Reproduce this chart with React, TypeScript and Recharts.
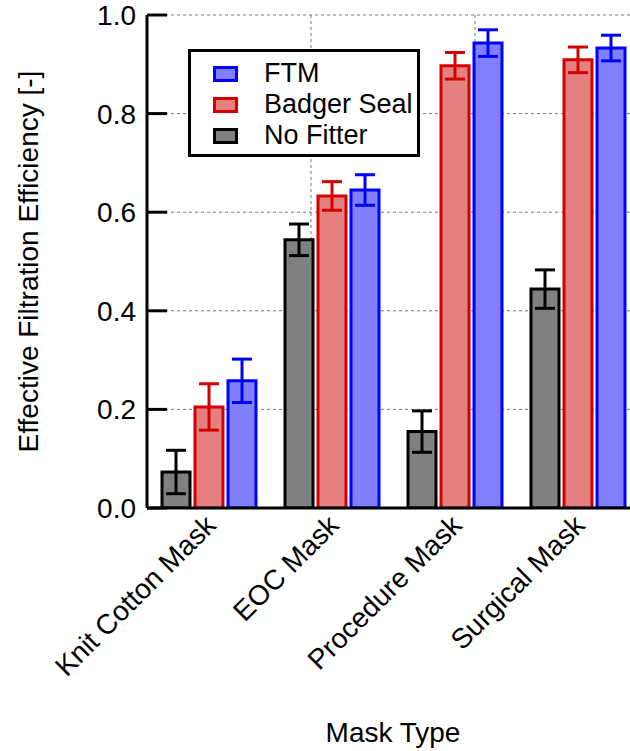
import React from 'react';
import { Bar, BarChart, CartesianGrid, ErrorBar, Label, Legend, XAxis, YAxis } from 'recharts';

const categories = ['Knit Cotton Mask', 'EOC Mask', 'Procedure Mask', 'Surgical Mask'];
const noFitter = [0.073, 0.544, 0.155, 0.444];
const noFitterErr = [0.044, 0.032, 0.042, 0.039];
const badgerSeal = [0.205, 0.633, 0.897, 0.909];
const badgerSealErr = [0.047, 0.029, 0.027, 0.026];
const ftm = [0.258, 0.645, 0.943, 0.933];
const ftmErr = [0.044, 0.031, 0.027, 0.026];
const yTicks = [0, 0.2, 0.4, 0.6, 0.8, 1.0];
const separators = [1, 2, 3];

const FONT = '"Liberation Sans", Arial, Helvetica, sans-serif';
const AXIS_LINE = { stroke: '#000', strokeWidth: 3 };

const SERIES = [
  { key: 'ftm', label: 'FTM', fill: '#8080ff', stroke: '#0000ff' },
  { key: 'badgerSeal', label: 'Badger Seal', fill: '#e58080', stroke: '#d40000' },
  { key: 'noFitter', label: 'No Fitter', fill: '#808080', stroke: '#000000' },
];

const data = categories.map((name, i) => ({
  name,
  noFitter: noFitter[i],
  noFitterErr: noFitterErr[i],
  badgerSeal: badgerSeal[i],
  badgerSealErr: badgerSealErr[i],
  ftm: ftm[i],
  ftmErr: ftmErr[i],
}));

function LeftTick({ x, y, payload }: any) {
  return (
    <g>
      <line x1={x} x2={x + 20} y1={y} y2={y} stroke="#000" strokeWidth={3} />
      <text x={x - 11} y={y} dy="0.36em" textAnchor="end" fontSize={28} fontFamily={FONT} fill="#000">
        {Number(payload.value).toFixed(1)}
      </text>
    </g>
  );
}

function RightTick({ x, y }: any) {
  return <line x1={x - 12} x2={x} y1={y} y2={y} stroke="#000" strokeWidth={3} />;
}

function TopSepTick({ x, y }: any) {
  return <line x1={x} x2={x} y1={y} y2={y + 18} stroke="#000" strokeWidth={3} />;
}

function BottomSepTick({ x, y }: any) {
  return <line x1={x} x2={x} y1={y} y2={y - 20} stroke="#000" strokeWidth={3} />;
}

function CategoryTick({ x, y, payload }: any) {
  const tx = x + 9;
  const ty = y + 19;
  return (
    <text
      x={tx}
      y={ty}
      textAnchor="end"
      transform={`rotate(-45 ${tx} ${ty})`}
      fontSize={28}
      fontFamily={FONT}
      fill="#000"
    >
      {payload.value}
    </text>
  );
}

function YTitle({ viewBox }: any) {
  const vb = viewBox || { x: 0, y: 15, width: 147, height: 493 };
  const cx = vb.x + 28;
  const cy = vb.y + vb.height / 2;
  return (
    <text
      x={cx}
      y={cy}
      dy="0.36em"
      textAnchor="middle"
      transform={`rotate(-90 ${cx} ${cy})`}
      fontSize={28}
      fontFamily={FONT}
      fill="#000"
    >
      Effective Filtration Efficiency [-]
    </text>
  );
}

function XTitle({ viewBox }: any) {
  const vb = viewBox || { x: 147, y: 508, width: 492, height: 243 };
  return (
    <text x={vb.x + vb.width / 2} y={vb.y + 234} textAnchor="middle" fontSize={28} fontFamily={FONT} fill="#000">
      Mask Type
    </text>
  );
}

function LegendBox() {
  return (
    <div
      style={{
        boxSizing: 'border-box',
        width: 232,
        height: 108,
        border: '3px solid #000',
        background: '#fff',
        padding: '6px 0 0 22px',
        fontFamily: FONT,
        fontSize: 27,
        color: '#000',
      }}
    >
      {SERIES.map((s) => (
        <div key={s.key} style={{ display: 'flex', alignItems: 'center', height: 31 }}>
          <span
            style={{
              boxSizing: 'border-box',
              display: 'inline-block',
              width: 25,
              height: 16,
              background: s.fill,
              border: `3px solid ${s.stroke}`,
              marginRight: 26,
            }}
          />
          <span style={{ lineHeight: '31px', whiteSpace: 'nowrap' }}>{s.label}</span>
        </div>
      ))}
    </div>
  );
}

export default function App() {
  const barOrder = [...SERIES].reverse();
  return (
    <div style={{ position: 'absolute', left: 0, top: 0, width: 630, height: 751, overflow: 'hidden', background: '#fff' }}>
      <BarChart
        width={660}
        height={751}
        data={data}
        margin={{ top: 15, right: 21, left: 0, bottom: 0 }}
        barGap={5}
      >
        <CartesianGrid xAxisId="sepTop" yAxisId="left" stroke="#777" strokeDasharray="3 3" strokeWidth={1} />
        <XAxis
          xAxisId="sepTop"
          orientation="top"
          type="number"
          domain={[0, 4]}
          ticks={separators}
          height={0}
          tickSize={0}
          tick={<TopSepTick />}
          axisLine={AXIS_LINE}
          allowDataOverflow
        />
        <XAxis
          xAxisId="sepBot"
          orientation="bottom"
          type="number"
          domain={[0, 4]}
          ticks={separators}
          height={0}
          tickSize={0}
          tick={<BottomSepTick />}
          axisLine={false}
          allowDataOverflow
        />
        <XAxis
          xAxisId="cat"
          dataKey="name"
          height={243}
          tickSize={0}
          tickMargin={0}
          interval={0}
          tick={<CategoryTick />}
          axisLine={AXIS_LINE}
        >
          <Label content={<XTitle />} />
        </XAxis>
        <YAxis
          yAxisId="left"
          type="number"
          domain={[0, 1]}
          ticks={yTicks}
          width={147}
          tickSize={0}
          tickMargin={0}
          tick={<LeftTick />}
          axisLine={AXIS_LINE}
          allowDataOverflow
        >
          <Label content={<YTitle />} />
        </YAxis>
        <YAxis
          yAxisId="right"
          orientation="right"
          type="number"
          domain={[0, 1]}
          ticks={yTicks}
          width={0}
          tickSize={0}
          tickMargin={0}
          tick={<RightTick />}
          axisLine={AXIS_LINE}
          allowDataOverflow
        />
        {barOrder.map((s) => (
          <Bar
            key={s.key}
            dataKey={s.key}
            xAxisId="cat"
            yAxisId="left"
            fill={s.fill}
            stroke={s.stroke}
            strokeWidth={3}
            barSize={28}
            isAnimationActive={false}
            legendType="none"
          >
            <ErrorBar dataKey={`${s.key}Err`} width={10} stroke={s.stroke} strokeWidth={3} direction="y" />
          </Bar>
        ))}
        <Legend
          layout="vertical"
          align="center"
          verticalAlign="middle"
          content={() => <LegendBox />}
          wrapperStyle={{ position: 'absolute', left: 188, top: 49, width: 232, height: 108 }}
        />
      </BarChart>
    </div>
  );
}
